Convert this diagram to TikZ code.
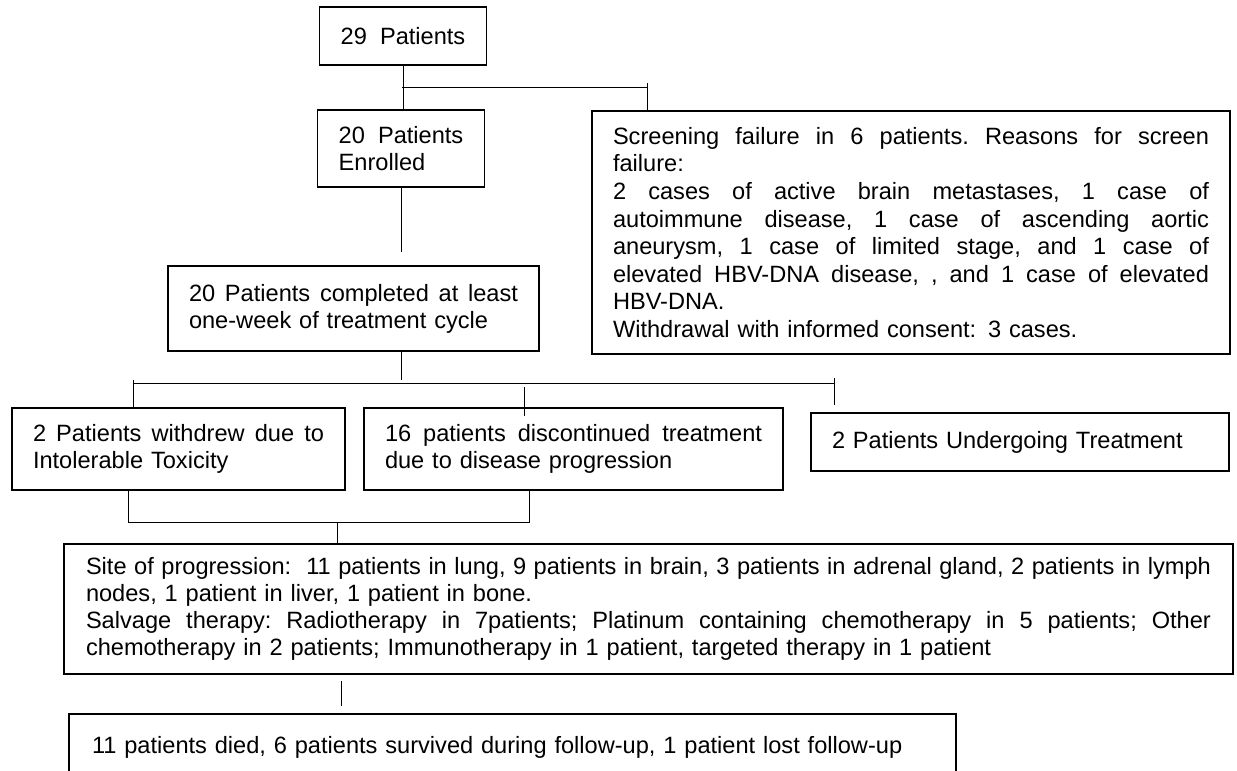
\documentclass[tikz,border=0pt]{standalone}
\usepackage{fontspec}
\setmainfont{Liberation Sans}
\newcommand{\jline}[1]{\noindent\hbox to \hsize{\frenchspacing\spaceskip=0.278em plus 1fil\relax #1}}
\tikzset{
  box/.style={draw, line width=0.8pt, inner xsep=10.5pt, inner ysep=0pt, align=left,
    font=\fontsize{11.8}{13.5}\selectfont},
  link/.style={line width=0.5pt}
}
\begin{document}
\begin{tikzpicture}[x=0.5pt,y=-0.5pt]
  \useasboundingbox (0,0) rectangle (1237,771);
  \clip (0,0) rectangle (1237,771);
  \node[box, minimum width=83pt, minimum height=29pt, align=center] (n29) at (403,36) {29\ \ Patients};
  \node[box, minimum width=83pt, minimum height=38.5pt] (nenr) at (401,148.5) {20\ \ Patients\\Enrolled};
  \node[box, text width=164.5pt, minimum height=42.5pt] (ncomp) at (353.5,308.5)
    {\jline{20 Patients completed at least}\\one-week of treatment cycle\par\vspace{3pt}};
  \node[box, text width=298pt, minimum height=121.5pt, font=\fontsize{11.8}{13.8}\selectfont] (nscr) at (911,232.5)
    {\jline{Screening failure in 6 patients. Reasons for screen}\\
     failure:\\
     \jline{2 cases of active brain metastases, 1 case of}\\
     \jline{autoimmune disease, 1 case of ascending aortic}\\
     \jline{aneurysm, 1 case of limited stage, and 1 case of}\\
     \jline{elevated HBV-DNA disease, , and 1 case of elevated}\\
     HBV-DNA.\\
     Withdrawal with informed consent: 3 cases.\par\vspace{9.5pt}};
  \node[box, text width=145.5pt, minimum height=41pt] (nwd) at (178.5,449)
    {\jline{2 Patients withdrew due to}\\Intolerable Toxicity};
  \node[box, text width=188.5pt, minimum height=41pt] (ndis) at (573.5,449)
    {\jline{16 patients discontinued treatment}\\due to disease progression};
  \node[box, text width=188pt, minimum height=29pt] (nund) at (1020,442) {2 Patients Undergoing Treatment};
  \node[box, inner xsep=11pt, text width=562.5pt, minimum height=65pt] (nsite) at (648.5,609)
    {\jline{Site of progression:\ \ 11 patients in lung, 9 patients in brain, 3 patients in adrenal gland, 2 patients in lymph}\\
     nodes, 1 patient in liver, 1 patient in bone.\\
     \jline{Salvage therapy: Radiotherapy in 7patients; Platinum containing chemotherapy in 5 patients; Other}\\
     chemotherapy in 2 patients; Immunotherapy in 1 patient, targeted therapy in 1 patient};
  \node[box, inner xsep=11.5pt, text width=420.5pt, minimum height=33pt] (nend) at (512.5,747)
    {11 patients died, 6 patients survived during follow-up, 1 patient lost follow-up};
  \coordinate (b1) at (402,87);
  \coordinate (b2) at (647,87);
  \coordinate (t1) at (647,83);
  \coordinate (e1) at (401,252);
  \coordinate (c1) at (401,380);
  \coordinate (h1) at (133,383);
  \coordinate (h2) at (834,383);
  \coordinate (d1) at (133,380);
  \coordinate (d2) at (524,387);
  \coordinate (d3) at (834,378);
  \coordinate (u1) at (128,522);
  \coordinate (u2) at (529,522);
  \coordinate (m1) at (337,523);
  \coordinate (s1) at (341,681);
  \draw[link] (n29.south) -- (n29.south |- nenr.north);
  \draw[link] (b1) -- (b2);
  \draw[link] (t1) -- (t1 |- nscr.north);
  \draw[link] (nenr.south) -- (e1);
  \draw[link] (ncomp.south -| c1) -- (c1);
  \draw[link] (h1) -- (h2);
  \draw[link] (d1) -- (d1 |- nwd.north);
  \draw[link] (d2) -- ++(0,29);
  \draw[link] (d3) -- ++(0,27);
  \draw[link] (nwd.south -| u1) -- (u1) -- (u2) -- (ndis.south -| u2);
  \draw[link] (m1) -- (m1 |- nsite.north);
  \draw[link] (s1) -- ++(0,25);
\end{tikzpicture}
\end{document}
